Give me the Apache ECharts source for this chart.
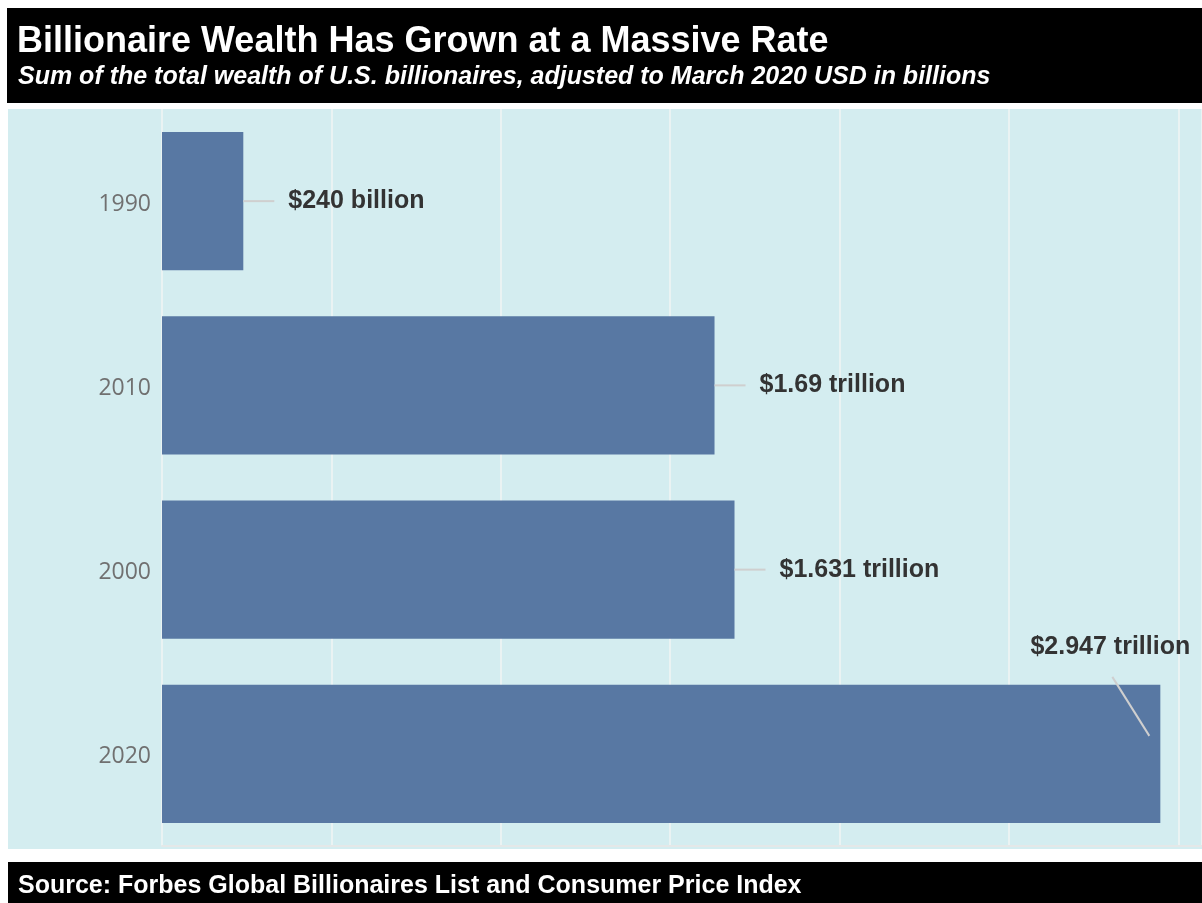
<!DOCTYPE html>
<html>
<head>
<meta charset="utf-8">
<script src="https://cdn.jsdelivr.net/npm/echarts@6/dist/echarts.min.js"></script>
<style>
html,body{margin:0;padding:0;background:#fff;}
#chart{width:1202px;height:903px;}
</style>
</head>
<body>
<div id="chart"></div>
<script>
// ---- data ----
const categories = ['1990', '2010', '2000', '2020'];
const wealthValues = [240, 1631, 1690, 2947];
const valueLabels = ['$240 billion', '$1.69 trillion', '$1.631 trillion', '$2.947 trillion'];
const titleText = 'Billionaire Wealth Has Grown at a Massive Rate';
const subtitleText = 'Sum of the total wealth of U.S. billionaires, adjusted to March 2020 USD in billions';
const sourceText = 'Source: Forbes Global Billionaires List and Consumer Price Index';

const chart = echarts.init(document.getElementById('chart'), null, {renderer: 'canvas'});
const W = 1202, H = 903;
const gridLeft = 162, gridTop = 109, gridBottomY = 846;
const labelFont = 'bold 25px "Liberation Sans", Arial, sans-serif';

function textWidth(t, font) {
  const c = document.createElement('canvas').getContext('2d');
  c.font = font;
  return c.measureText(t).width;
}

const annoData = wealthValues.map((v, i) => [v, i, valueLabels[i]]);

chart.setOption({
  animation: false,
  backgroundColor: '#ffffff',
  grid: {left: gridLeft, right: 0, top: gridTop, bottom: H - gridBottomY, containLabel: false},
  xAxis: {
    type: 'value', min: 0, max: 3070, interval: 500,
    axisLabel: {show: false}, axisTick: {show: false},
    axisLine: {show: true, lineStyle: {color: '#e4e8e8', width: 2}},
    splitLine: {show: true, lineStyle: {color: '#f2f4f4', width: 1.5}}
  },
  yAxis: {
    type: 'category', data: categories, inverse: true,
    axisLine: {show: false}, axisTick: {show: false},
    axisLabel: {
      margin: 11,
      formatter: '{a|{value}}',
      rich: {a: {color: '#707070', fontSize: 23, fontFamily: '"Open Sans", "Liberation Sans", sans-serif', padding: [6, 0, 0, 0]}}
    }
  },
  graphic: [
    {type: 'rect', z: -10, silent: true, shape: {x: 8, y: 109, width: W - 8, height: 740}, style: {fill: '#d4edf0'}},
    {type: 'rect', z: 10, silent: true, shape: {x: 7, y: 8, width: W - 7, height: 95}, style: {fill: '#000000'}},
    {type: 'text', z: 11, silent: true, x: 17, y: 42, style: {text: titleText, fill: '#ffffff', font: 'bold 36px "Liberation Sans", Arial, sans-serif', textVerticalAlign: 'middle'}},
    {type: 'text', z: 11, silent: true, x: 18, y: 77, style: {text: subtitleText, fill: '#ffffff', font: 'italic bold 25px "Liberation Sans", Arial, sans-serif', textVerticalAlign: 'middle'}},
    {type: 'rect', z: 10, silent: true, shape: {x: 8, y: 862, width: W - 8, height: 41}, style: {fill: '#000000'}},
    {type: 'text', z: 11, silent: true, x: 18, y: 886, style: {text: sourceText, fill: '#ffffff', font: 'bold 25px "Liberation Sans", Arial, sans-serif', textVerticalAlign: 'middle'}}
  ],
  series: [
    {
      type: 'bar', data: wealthValues, barCategoryGap: '25%',
      itemStyle: {color: '#5878a3'}, z: 2
    },
    {
      type: 'custom', data: annoData, z: 5,
      encode: {x: 0, y: 1},
      renderItem: function (params, api) {
        const v = api.value(0), idx = api.value(1);
        const text = valueLabels[idx];
        const p = api.coord([v, idx]);
        const w = textWidth(text, labelFont);
        const right = params.coordSys.x + params.coordSys.width;
        let line, tx, ty, align;
        if (p[0] + 45 + w > right) {
          line = {x1: p[0] - 11, y1: p[1] - 18, x2: p[0] - 48, y2: p[1] - 77};
          tx = p[0] - 50; ty = p[1] - 107; align = 'center';
        } else {
          line = {x1: p[0], y1: p[1], x2: p[0] + 31, y2: p[1]};
          tx = p[0] + 45; ty = p[1]; align = 'left';
        }
        return {
          type: 'group',
          children: [
            {type: 'line', shape: line, style: {stroke: '#cfcfcf', lineWidth: 2}},
            {type: 'text', x: tx, y: ty, style: {text: text, font: labelFont, fill: '#333333', align: align, verticalAlign: 'middle'}}
          ]
        };
      }
    }
  ]
});
</script>
</body>
</html>
